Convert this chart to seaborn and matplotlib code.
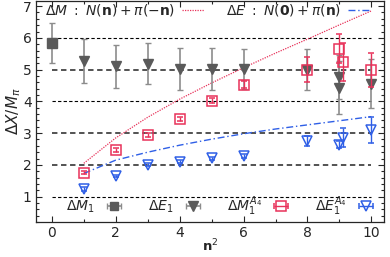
import matplotlib
matplotlib.use("Agg")
import matplotlib.pyplot as plt
import seaborn as sns
import pandas as pd
import numpy as np
from matplotlib.lines import Line2D
from matplotlib.ticker import MultipleLocator

# --- data ---
dm1_x = [0]
dm1_y = [5.84]
dm1_err = [0.64]

de1_x = [1, 2, 3, 4, 5, 6, 8, 8.98, 8.98, 10]
de1_y = [5.27, 5.10, 5.19, 5.01, 5.02, 5.02, 5.00, 4.77, 4.43, 4.56]
de1_err = [0.68, 0.69, 0.65, 0.66, 0.67, 0.63, 0.64, 0.68, 0.84, 0.78]

dma4_x = [1, 2, 3, 4, 5, 6, 8, 9.0, 9.12, 10]
dma4_y = [1.76, 2.48, 2.93, 3.45, 4.02, 4.53, 5.00, 5.66, 5.24, 4.98]
dma4_err = [0.05, 0.06, 0.06, 0.06, 0.08, 0.10, 0.39, 0.46, 0.60, 0.54]

dea4_x = [1, 2, 3, 4, 5, 6, 8, 9.0, 9.1, 10]
dea4_y = [1.24, 1.65, 2.00, 2.10, 2.21, 2.28, 2.76, 2.64, 2.85, 3.10]
dea4_err = [0.05, 0.04, 0.05, 0.05, 0.05, 0.05, 0.16, 0.10, 0.30, 0.40]

curve_x = [1, 2, 3, 4, 5, 6, 7, 8, 9, 10]
free_dm = [2.05, 2.85, 3.50, 4.07, 4.58, 5.06, 5.52, 5.96, 6.41, 6.85]
free_de = [1.73, 2.15, 2.40, 2.62, 2.81, 2.98, 3.13, 3.26, 3.39, 3.52]

hline_y = [1, 2, 3, 4, 5, 6]

grey = "#5a5a5a"
grey_err = "#8c8c8c"
red = "#e8325a"
blue = "#2f5fe6"

sns.set_theme(style="ticks")
plt.rcParams["font.family"] = ["DejaVu Sans"]
plt.rcParams["mathtext.fontset"] = "dejavusans"

fig = plt.figure(figsize=(3.9, 2.57), dpi=100)
ax = fig.add_axes([0.092, 0.136, 0.893, 0.86])

for y in hline_y:
    if y in (2, 3, 5):
        ax.hlines(y, 0, 10, colors="#444444", linestyles=(0, (3, 2)), lw=1.3, zorder=1)
    else:
        ax.hlines(y, 0, 10, colors="black", linestyles=(0, (3, 2)), lw=0.8, zorder=1)

curves = pd.DataFrame({"x": curve_x, "dm": free_dm, "de": free_de})
sns.lineplot(data=curves, x="x", y="dm", ax=ax, color=red, lw=0.9,
             linestyle=(0, (1, 1)), zorder=2)
sns.lineplot(data=curves, x="x", y="de", ax=ax, color=blue, lw=1.0,
             linestyle=(0, (5, 2, 1, 2)), zorder=2)

ax.errorbar(dm1_x, dm1_y, yerr=dm1_err, fmt="s", color=grey, ecolor=grey_err,
            ms=6.5, capsize=2.5, elinewidth=1.2, zorder=3)
ax.errorbar(de1_x, de1_y, yerr=de1_err, fmt="v", color=grey, ecolor=grey_err,
            ms=7, capsize=2.5, elinewidth=1.2, zorder=3)
ax.errorbar(dma4_x, dma4_y, yerr=dma4_err, fmt="s", color=red, mfc="none",
            ms=6.5, mew=1.1, capsize=2.5, elinewidth=1.0, zorder=4)
ax.errorbar(dea4_x, dea4_y, yerr=dea4_err, fmt="v", color=blue, mfc="none",
            ms=7.5, mew=1.1, capsize=2.5, elinewidth=1.0, zorder=4)

ax.set_xlim(-0.5, 10.4)
ax.set_ylim(0.2, 7.16)
ax.xaxis.set_major_locator(MultipleLocator(2))
ax.xaxis.set_minor_locator(MultipleLocator(1))
ax.yaxis.set_major_locator(MultipleLocator(1))
ax.yaxis.set_minor_locator(MultipleLocator(0.2))
ax.tick_params(which="both", direction="in", top=True, right=True,
               labelsize=10, width=0.8, pad=3)
ax.tick_params(which="major", length=4)
ax.tick_params(which="minor", length=2)
for s in ax.spines.values():
    s.set_linewidth(0.9)

ax.set_xlabel(r"$\mathbf{n}^2$", fontsize=9.5, labelpad=-2)
ax.set_ylabel(r"$\Delta X/M_\pi$", fontsize=11, labelpad=0)

top_handles = [
    Line2D([], [], color=red, lw=0.9, linestyle=(0, (1, 1))),
    Line2D([], [], color=blue, lw=1.0, linestyle=(0, (5, 2, 1, 2))),
]
top_labels = [r"$\Delta M\ :\ N(\mathbf{n})+\pi(-\mathbf{n})$",
              r"$\Delta E\ :\ N(\mathbf{0})+\pi(\mathbf{n})$"]
leg1 = ax.legend(top_handles, top_labels, loc="upper left", ncol=2,
                 frameon=False, markerfirst=False, fontsize=10,
                 handlelength=1.6, columnspacing=1.6, handletextpad=0.5,
                 borderaxespad=0.0, borderpad=0.0, bbox_to_anchor=(0.025, 0.995))
ax.add_artist(leg1)

# legend samples with horizontal error bars (no data drawn)
nan = [np.nan]
h1 = ax.errorbar(nan, nan, xerr=[1], fmt="s", color=grey, ecolor=grey_err,
                 ms=6, capsize=2.5, elinewidth=1.2)
h2 = ax.errorbar(nan, nan, xerr=[1], fmt="v", color=grey, ecolor=grey_err,
                 ms=7, capsize=2.5, elinewidth=1.2)
h3 = ax.errorbar(nan, nan, xerr=[1], fmt="s", color=red, mfc="none",
                 ms=6.5, mew=1.1, capsize=2.5, elinewidth=1.0)
h4 = ax.errorbar(nan, nan, xerr=[1], fmt="v", color=blue, mfc="none",
                 ms=7.5, mew=1.1, capsize=2.5, elinewidth=1.0)
bot_labels = [r"$\Delta M_1$", r"$\Delta E_1$", r"$\Delta M_1^{A_4}$",
              r"$\Delta E_1^{A_4}$"]
ax.legend([h1, h2, h3, h4], bot_labels, loc="lower right", ncol=4, frameon=False,
          markerfirst=False, fontsize=10, handlelength=1.8, columnspacing=1.55,
          handletextpad=0.5, borderaxespad=0.0, borderpad=0.0,
          bbox_to_anchor=(0.985, 0.02))

fig.savefig("out.png", dpi=100)
